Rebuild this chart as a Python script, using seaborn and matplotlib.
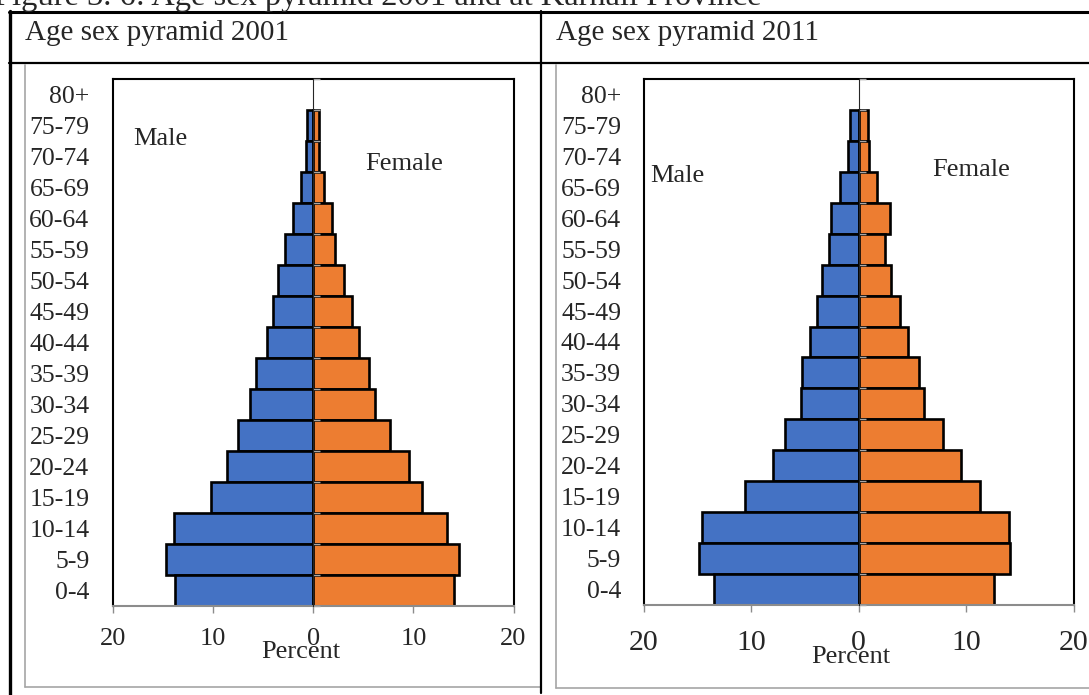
import matplotlib
matplotlib.use("Agg")
import matplotlib.pyplot as plt
from matplotlib.lines import Line2D
import seaborn as sns

# Age groups, oldest first (top of the pyramid)
age_groups = ["80+", "75-79", "70-74", "65-69", "60-64", "55-59", "50-54",
              "45-49", "40-44", "35-39", "30-34", "25-29", "20-24",
              "15-19", "10-14", "5-9", "0-4"]

# Percent of population, 2001
male_2001 = [0.0, 0.6, 0.7, 1.2, 2.0, 2.8, 3.5, 4.0, 4.6, 5.7, 6.3, 7.5,
             8.6, 10.2, 13.9, 14.7, 13.8]
female_2001 = [0.0, 0.6, 0.6, 1.1, 1.9, 2.2, 3.1, 3.9, 4.6, 5.6, 6.2, 7.7,
               9.6, 10.9, 13.4, 14.6, 14.1]

# Percent of population, 2011
male_2011 = [0.0, 0.85, 1.0, 1.7, 2.6, 2.8, 3.4, 3.9, 4.5, 5.3, 5.4, 6.9,
             8.0, 10.6, 14.6, 14.9, 13.5]
female_2011 = [0.0, 0.9, 1.0, 1.7, 2.9, 2.4, 3.0, 3.8, 4.6, 5.6, 6.1, 7.8,
               9.5, 11.3, 14.0, 14.1, 12.6]

x_ticks = [-20, -10, 0, 10, 20]
x_tick_labels = ["20", "10", "0", "10", "20"]

BLUE = "#4472C4"
ORANGE = "#ED7D31"
AXIS_GREY = "#8C8C8C"

sns.set_style("white")
plt.rcParams["font.family"] = ["Liberation Serif", "DejaVu Serif"]

W, H = 1089, 695
fig = plt.figure(figsize=(W / 100, H / 100), dpi=100)
fig.patch.set_facecolor("white")


def fx(px):
    return px / W


def fy(py):
    return 1 - py / H


def draw_pyramid(ax, male, female, tick_size, tick_pad, ylab_pad,
                 pct_xy, male_xy, female_xy):
    sns.barplot(x=[-v for v in male], y=age_groups, order=age_groups,
                orient="h", width=1.0, saturation=1, color=BLUE,
                edgecolor="black", linewidth=1.9, errorbar=None, ax=ax)
    sns.barplot(x=female, y=age_groups, order=age_groups,
                orient="h", width=1.0, saturation=1, color=ORANGE,
                edgecolor="black", linewidth=1.9, errorbar=None, ax=ax)
    for p in ax.patches:
        if p.get_width() == 0:
            p.set_linewidth(0)
    ax.set_xlim(-20, 20)
    ax.set_xticks(x_ticks)
    ax.set_xticklabels(x_tick_labels)
    ax.set_ylabel("")
    ax.set_xlabel("Percent", fontsize=19)
    ax.xaxis.label.set_va("baseline")
    ax.xaxis.set_label_coords(*pct_xy)
    ax.tick_params(axis="x", direction="out", length=5, width=1,
                   color=AXIS_GREY, labelsize=tick_size, pad=tick_pad,
                   bottom=True)
    ax.tick_params(axis="y", length=0, labelsize=18.5, pad=ylab_pad)
    for side in ("top", "left", "right"):
        ax.spines[side].set_color("black")
        ax.spines[side].set_linewidth(1.5)
    ax.spines["bottom"].set_color(AXIS_GREY)
    ax.spines["bottom"].set_linewidth(1.5)

    # Category axis running up the zero line, ticked between age groups
    zero_axis = ax.secondary_yaxis(0.5)
    zero_axis.set_zorder(6)
    zero_axis.spines["left"].set_color("#A6A6A6")
    zero_axis.spines["left"].set_linewidth(1.3)
    zero_axis.set_yticks([k - 0.5 for k in range(len(age_groups) + 1)])
    zero_axis.set_yticklabels([])
    zero_axis.tick_params(axis="y", direction="out", length=5, width=1,
                          color="#A6A6A6")

    ax.text(*male_xy, "Male", transform=ax.transAxes, fontsize=19,
            ha="left", va="baseline")
    ax.text(*female_xy, "Female", transform=ax.transAxes, fontsize=19,
            ha="left", va="baseline")


ax1 = fig.add_axes([fx(113), fy(606), fx(513.5) - fx(113), (606 - 79) / H])
draw_pyramid(ax1, male_2001, female_2001, tick_size=19, tick_pad=11,
             ylab_pad=17, pct_xy=(0.468, -0.099),
             male_xy=(0.051, 0.875), female_xy=(0.631, 0.827))

ax2 = fig.add_axes([fx(644), fy(605), fx(1073.5) - fx(644), (605 - 79) / H])
draw_pyramid(ax2, male_2011, female_2011, tick_size=21.5, tick_pad=13,
             ylab_pad=16.5, pct_xy=(0.481, -0.110),
             male_xy=(0.015, 0.805), female_xy=(0.671, 0.816))


# Table frame and chart-area outlines
def hline(y, x0, x1, color="black", lw=1.5):
    fig.add_artist(Line2D([fx(x0), fx(x1)], [fy(y), fy(y)], color=color,
                          lw=lw, transform=fig.transFigure))


def vline(x, y0, y1, color="black", lw=1.5):
    fig.add_artist(Line2D([fx(x), fx(x)], [fy(y0), fy(y1)], color=color,
                          lw=lw, transform=fig.transFigure))


vline(24.5, 65, 687, color="#A6A6A6", lw=1.2)
hline(687, 24.5, 540, color="#A6A6A6", lw=1.2)
vline(556, 65, 688, color="#A6A6A6", lw=1.2)
hline(688, 556, W, color="#A6A6A6", lw=1.2)

hline(12, 9, W, lw=2.2)
hline(63, 9, W, lw=1.6)
vline(10, 11, H, lw=2.4)
vline(541, 11, 693, lw=1.6)

fig.text(fx(25), fy(40), "Age sex pyramid 2001", fontsize=21,
         ha="left", va="baseline")
fig.text(fx(556), fy(40), "Age sex pyramid 2011", fontsize=21,
         ha="left", va="baseline")

# Caption above the table (runs off the top of the page image)
fig.text(fx(-6), fy(5),
         "Figure 3. 6: Age sex pyramid 2001 and at Karnali Province",
         fontsize=23.4, ha="left", va="baseline")

fig.savefig("out.png", dpi=100)
